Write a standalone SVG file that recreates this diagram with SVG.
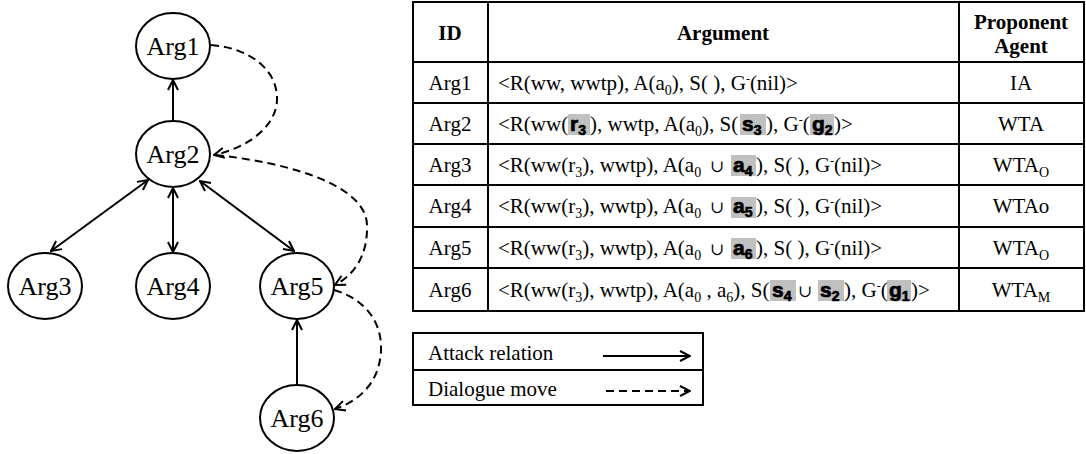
<svg xmlns="http://www.w3.org/2000/svg" width="1086" height="454" viewBox="0 0 1086 454">
  <style>
    .node ellipse { fill: #fff; stroke: #000; stroke-width: 2; }
    .node text { font-family: "Liberation Serif", serif; font-size: 26px; text-anchor: middle; fill: #000; }
    .edge { fill: none; stroke: #000; stroke-width: 2; }
    .dash { stroke-dasharray: 8 5; }
    .grid { stroke: #000; stroke-width: 2; fill: none; }
    .t { font-family: "Liberation Serif", serif; font-size: 21px; fill: #000; }
    .c { text-anchor: middle; }
    .b { font-weight: bold; }
    .sub { font-size: 14px; }
    .hl { fill: #c0c0c0; }
    .hv { font-family: "Liberation Sans", sans-serif; font-weight: bold; font-size: 21px; fill: #000; stroke: #000; stroke-width: 0.7; }
    .hs { font-size: 14px; }
    .u { font-family: "DejaVu Serif", serif; font-size: 17px; }
    .sup { font-size: 12px; }
  </style>
  <defs>
    <marker id="ah" viewBox="0 0 12 12" refX="11" refY="6" markerWidth="12" markerHeight="12" markerUnits="userSpaceOnUse" orient="auto-start-reverse">
      <path d="M1,1 L11,6 L1,11" fill="none" stroke="#000" stroke-width="2"/>
    </marker>
  </defs>

  <rect x="0" y="0" width="1086" height="454" fill="#fff"/>

  <!-- connectors -->
  <g id="connectors">
    <path class="edge" d="M173,121 L173,80" marker-end="url(#ah)"/>
    <path class="edge" d="M148,180 L51,251" marker-start="url(#ah)" marker-end="url(#ah)"/>
    <path class="edge" d="M173,188 L173,252" marker-start="url(#ah)" marker-end="url(#ah)"/>
    <path class="edge" d="M200,181 L294,251" marker-start="url(#ah)" marker-end="url(#ah)"/>
    <path class="edge" d="M297,385 L297,320" marker-end="url(#ah)"/>
    <path class="edge dash" d="M211,45 C250,48 278,70 277,100 C276,128 246,148 214,155" marker-end="url(#ah)"/>
    <path class="edge dash" d="M216,155 C290,163 366,185 367,225 C368,258 352,276 335,285" marker-end="url(#ah)"/>
    <path class="edge dash" d="M334,290 C368,300 382,325 381,350 C380,380 362,400 335,409" marker-end="url(#ah)"/>
  </g>

  <!-- argument nodes -->
  <g id="arg1" class="node"><ellipse cx="173" cy="46" rx="37" ry="33"/><text x="173" y="55">Arg1</text></g>
  <g id="arg2" class="node"><ellipse cx="173" cy="154" rx="37" ry="33"/><text x="173" y="163">Arg2</text></g>
  <g id="arg3" class="node"><ellipse cx="45" cy="286" rx="37" ry="33"/><text x="45" y="295">Arg3</text></g>
  <g id="arg4" class="node"><ellipse cx="173" cy="286" rx="37" ry="33"/><text x="173" y="295">Arg4</text></g>
  <g id="arg5" class="node"><ellipse cx="297" cy="286" rx="37" ry="33"/><text x="297" y="295">Arg5</text></g>
  <g id="arg6" class="node"><ellipse cx="297" cy="418" rx="37" ry="33"/><text x="297" y="427">Arg6</text></g>

  <!-- argument table -->
  <g id="table">
    <rect class="grid" x="413" y="2" width="671" height="309" stroke-width="2.5"/>
    <path class="grid" d="M488,2 V311 M959,2 V311 M413,62 H1084 M413,103 H1084 M413,144 H1084 M413,185 H1084 M413,227 H1084 M413,268 H1084"/>

    <text class="t b c" x="450" y="40">ID</text>
    <text class="t b c" x="723" y="40">Argument</text>
    <text class="t b c" x="1021" y="29">Proponent</text>
    <text class="t b c" x="1021" y="53">Agent</text>

    <text class="t c" x="450" y="90">Arg1</text>
    <text class="t c" x="450" y="131">Arg2</text>
    <text class="t c" x="450" y="172">Arg3</text>
    <text class="t c" x="450" y="213">Arg4</text>
    <text class="t c" x="450" y="255">Arg5</text>
    <text class="t c" x="450" y="297">Arg6</text>

    <text class="t c" x="1021" y="90">IA</text>
    <text class="t c" x="1021" y="131">WTA</text>
    <text class="t c" x="1021" y="172">WTA<tspan class="sub" dy="5">O</tspan></text>
    <text class="t c" x="1021" y="213">WTAo</text>
    <text class="t c" x="1021" y="255">WTA<tspan class="sub" dy="5">O</tspan></text>
    <text class="t c" x="1021" y="297">WTA<tspan class="sub" dy="5">M</tspan></text>

    <!-- row 1 -->
    <text class="t" x="498" y="90">&lt;R(ww, wwtp), A(a<tspan class="sub" dy="5">0</tspan><tspan dy="-5">), S( ), G</tspan><tspan class="sup" dy="-7">-</tspan><tspan dy="7">(nil)&gt;</tspan></text>

    <!-- row 2 -->
    <rect class="hl" x="568" y="114" width="22" height="21"/>
    <rect class="hl" x="740" y="114" width="26" height="21"/>
    <rect class="hl" x="810" y="114" width="24" height="21"/>
    <text class="t" y="131"><tspan x="498">&lt;R(ww(</tspan><tspan x="590">), wwtp, A(a</tspan><tspan class="sub" dy="5">0</tspan><tspan dy="-5">), S(</tspan><tspan x="766">), G</tspan><tspan class="sup" dy="-7">-</tspan><tspan dy="7">(</tspan><tspan x="834">)&gt;</tspan></text>
    <text class="hv" y="131"><tspan x="570">r</tspan><tspan class="hs" dy="4">3</tspan><tspan x="742" dy="-4">s</tspan><tspan class="hs" dy="4">3</tspan><tspan x="812" dy="-4">g</tspan><tspan class="hs" dy="4">2</tspan></text>

    <!-- rows 3 to 5 -->
    <rect class="hl" x="731" y="155" width="25" height="21"/>
    <text class="t" y="172"><tspan x="498">&lt;R(ww(r</tspan><tspan class="sub" dy="5">3</tspan><tspan dy="-5">), wwtp), A(a</tspan><tspan class="sub" dy="5">0</tspan><tspan class="u" x="710" dy="-5">∪</tspan><tspan x="756">), S( ), G</tspan><tspan class="sup" dy="-7">-</tspan><tspan dy="7">(nil)&gt;</tspan></text>
    <text class="hv" y="172"><tspan x="733">a</tspan><tspan class="hs" dy="4">4</tspan></text>

    <rect class="hl" x="731" y="197" width="25" height="21"/>
    <text class="t" y="213"><tspan x="498">&lt;R(ww(r</tspan><tspan class="sub" dy="5">3</tspan><tspan dy="-5">), wwtp), A(a</tspan><tspan class="sub" dy="5">0</tspan><tspan class="u" x="710" dy="-5">∪</tspan><tspan x="756">), S( ), G</tspan><tspan class="sup" dy="-7">-</tspan><tspan dy="7">(nil)&gt;</tspan></text>
    <text class="hv" y="213"><tspan x="733">a</tspan><tspan class="hs" dy="4">5</tspan></text>

    <rect class="hl" x="731" y="238" width="25" height="21"/>
    <text class="t" y="255"><tspan x="498">&lt;R(ww(r</tspan><tspan class="sub" dy="5">3</tspan><tspan dy="-5">), wwtp), A(a</tspan><tspan class="sub" dy="5">0</tspan><tspan class="u" x="710" dy="-5">∪</tspan><tspan x="756">), S( ), G</tspan><tspan class="sup" dy="-7">-</tspan><tspan dy="7">(nil)&gt;</tspan></text>
    <text class="hv" y="255"><tspan x="733">a</tspan><tspan class="hs" dy="4">6</tspan></text>

    <!-- row 6 -->
    <rect class="hl" x="770" y="280" width="26" height="21"/>
    <rect class="hl" x="818" y="280" width="26" height="21"/>
    <rect class="hl" x="887" y="280" width="24" height="21"/>
    <text class="t" y="297"><tspan x="498">&lt;R(ww(r</tspan><tspan class="sub" dy="5">3</tspan><tspan dy="-5">), wwtp), A(a</tspan><tspan class="sub" dy="5">0</tspan><tspan dy="-5"> , a</tspan><tspan class="sub" dy="5">6</tspan><tspan dy="-5">), S(</tspan><tspan class="u" x="798">∪</tspan><tspan x="844">), G</tspan><tspan class="sup" dy="-7">-</tspan><tspan dy="7">(</tspan><tspan x="911">)&gt;</tspan></text>
    <text class="hv" y="297"><tspan x="772">s</tspan><tspan class="hs" dy="4">4</tspan><tspan x="820" dy="-4">s</tspan><tspan class="hs" dy="4">2</tspan><tspan x="889" dy="-4">g</tspan><tspan class="hs" dy="4">1</tspan></text>
  </g>

  <!-- legend -->
  <g id="legend">
    <rect class="grid" x="413" y="333" width="290" height="72"/>
    <path class="grid" d="M413,370 H703"/>
    <text class="t" x="428" y="360">Attack relation</text>
    <text class="t" x="428" y="396">Dialogue move</text>
    <path class="edge" d="M603,356 H690" marker-end="url(#ah)"/>
    <path class="edge dash" d="M606,391 H690" marker-end="url(#ah)"/>
  </g>
</svg>
